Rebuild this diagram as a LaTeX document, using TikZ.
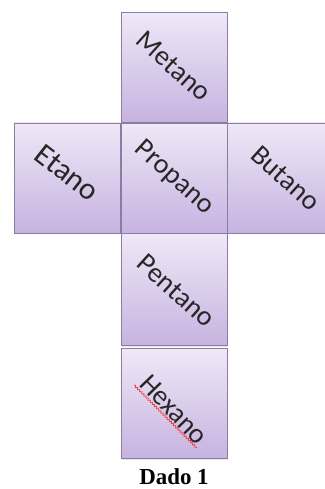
\documentclass[tikz,border=0pt]{standalone}
\usepackage{fontspec}
\setmainfont{Liberation Serif}
\newfontfamily\carafont{Carlito}
\usetikzlibrary{positioning,shadows,decorations.pathmorphing}
\definecolor{lilasclaro}{HTML}{EFE8F7}
\definecolor{lilasescuro}{HTML}{C6B3E0}
\definecolor{bordalilas}{HTML}{8A7CA3}

\begin{document}
\begin{tikzpicture}[x=1bp, y=1bp,
    cara/.style={draw=bordalilas, line width=0.8bp, top color=lilasclaro, bottom color=lilasescuro,
        minimum width=106bp, minimum height=110bp, inner sep=0pt,
        drop shadow={opacity=0.18, shadow xshift=1.2bp, shadow yshift=-1.2bp}},
    rotulo/.style={font=\carafont\fontsize{28}{28}\selectfont, text=black!85, rotate=-42, inner sep=1pt}]
                \useasboundingbox (0,0) rectangle (324,489);

                \node[cara] (propano) at (174,311) {};
                \node[cara, above=0bp of propano] (metano) {};
                \node[cara, left=0bp of propano] (etano) {};
                \node[cara, right=0bp of propano] (butano) {};
                \node[cara, below=0bp of propano, minimum height=112bp] (pentano) {};
                \node[cara, below=2bp of pentano] (hexano) {};

                \node[rotulo] (t-metano) at ([yshift=1bp]metano.center) {Metano};
                \node[rotulo, rotate=4, font=\carafont\fontsize{31}{31}\selectfont] (t-etano) at ([yshift=5bp]etano.center) {Etano};
                \node[rotulo] (t-propano) at (propano.center) {Propano};
                \node[rotulo] (t-butano) at ([xshift=5bp]butano.center) {Butano};
                \node[rotulo] (t-pentano) at ([xshift=2bp, yshift=-1bp]pentano.center) {Pentano};
                \node[rotulo, rotate=-4] (t-hexano) at ([yshift=-6bp]hexano.center) {Hexano};

                \draw[red!75!pink, line width=0.7bp, decorate, decoration={snake, amplitude=0.9bp, segment length=3bp}]
                    ([xshift=-2bp]t-hexano.south west) -- (t-hexano.south east);

                \node[font=\bfseries\fontsize{23}{23}\selectfont] (dado) at (174,12) {Dado 1};
            \end{tikzpicture}
\end{document}
